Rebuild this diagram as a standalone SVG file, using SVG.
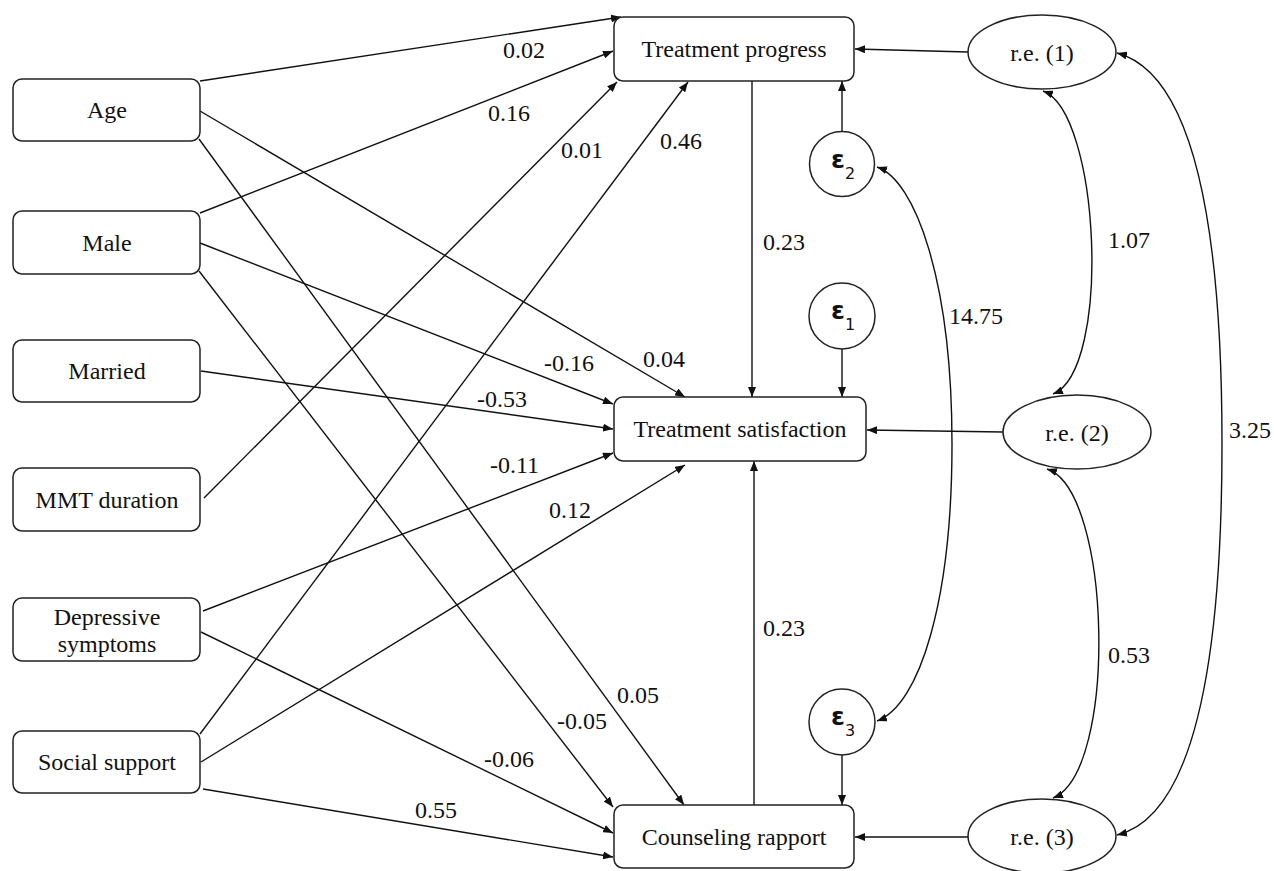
<svg xmlns="http://www.w3.org/2000/svg" width="1274" height="871" viewBox="0 0 1274 871">
<style>
.box{fill:#fff;stroke:#222;stroke-width:1.5}
.c line,.c path{stroke:#111;stroke-width:1.4;fill:none;marker-end:url(#ah)}
.c .dbl{marker-start:url(#ah)}
</style>
<defs>
<marker id="ah" viewBox="0 0 10 8" refX="10" refY="4" markerWidth="10" markerHeight="8" markerUnits="userSpaceOnUse" orient="auto-start-reverse">
<path d="M0,0 L10,4 L0,8 z" fill="#111"/>
</marker>
</defs>
<rect width="1274" height="871" fill="#fff"/>

<g id="connectors" class="c">
<line x1="200" y1="81" x2="621" y2="17"/>
<line x1="200" y1="111" x2="685" y2="397"/>
<line x1="199" y1="139" x2="684" y2="805"/>
<line x1="200" y1="213" x2="613" y2="51"/>
<line x1="200" y1="243" x2="613" y2="404"/>
<line x1="199" y1="271" x2="613" y2="807"/>
<line x1="201" y1="371" x2="613" y2="429"/>
<line x1="204" y1="498" x2="617" y2="82"/>
<line x1="203" y1="611" x2="613" y2="453"/>
<line x1="201" y1="632" x2="613" y2="833"/>
<line x1="200" y1="734" x2="688" y2="82"/>
<line x1="201" y1="762" x2="685" y2="465"/>
<line x1="203" y1="789" x2="613" y2="857"/>
<line x1="752" y1="81" x2="752" y2="397"/>
<line x1="754" y1="805" x2="754" y2="461"/>
<line x1="842" y1="132" x2="842" y2="81"/>
<line x1="842" y1="349" x2="842" y2="397"/>
<line x1="842" y1="755" x2="842" y2="805"/>
<line x1="968" y1="52" x2="855" y2="49"/>
<line x1="1003" y1="432" x2="867" y2="430"/>
<line x1="968" y1="837" x2="855" y2="837"/>
<path class="dbl" d="M1043,91 C1100,112 1112,370 1053,394"/>
<path class="dbl" d="M1047,469 C1112,490 1118,772 1053,798"/>
<path class="dbl" d="M1117,53 C1200,75 1222,250 1222,444 C1222,640 1200,815 1117,835"/>
<path class="dbl" d="M877,167 C915,180 952,280 952,444 C952,600 920,705 877,721"/>
</g>

<g font-family="Liberation Serif, Tinos, Times New Roman, serif" font-size="24" fill="#111" text-anchor="middle">
<g id="age"><rect class="box" x="13" y="79" width="187" height="62" rx="9"/><text x="107" y="118">Age</text></g>
<g id="male"><rect class="box" x="13" y="211" width="187" height="63" rx="9"/><text x="107" y="251">Male</text></g>
<g id="married"><rect class="box" x="13" y="340" width="187" height="62" rx="9"/><text x="107" y="379">Married</text></g>
<g id="mmt"><rect class="box" x="13" y="468" width="187" height="63" rx="9"/><text x="107" y="508">MMT duration</text></g>
<g id="depressive"><rect class="box" x="13" y="598" width="187" height="63" rx="9"/><text x="107" y="625">Depressive</text><text x="107" y="652">symptoms</text></g>
<g id="social"><rect class="box" x="13" y="731" width="187" height="62" rx="9"/><text x="107" y="770">Social support</text></g>

<g id="progress"><rect class="box" x="614" y="17" width="240" height="64" rx="9"/><text x="734" y="57">Treatment progress</text></g>
<g id="satisfaction"><rect class="box" x="614" y="397" width="252" height="64" rx="9"/><text x="740" y="437">Treatment satisfaction</text></g>
<g id="rapport"><rect class="box" x="614" y="805" width="240" height="63" rx="9"/><text x="734" y="845">Counseling rapport</text></g>

<g id="re1"><ellipse class="box" cx="1042" cy="52" rx="74" ry="37"/><text x="1042" y="61">r.e. (1)</text></g>
<g id="re2"><ellipse class="box" cx="1077" cy="432" rx="74" ry="37"/><text x="1077" y="441">r.e. (2)</text></g>
<g id="re3"><ellipse class="box" cx="1042" cy="836" rx="74" ry="37"/><text x="1042" y="845">r.e. (3)</text></g>
</g>

<g font-family="DejaVu Sans, sans-serif" fill="#111">
<g id="eps2"><circle class="box" cx="842" cy="164" r="32.5"/><text x="831" y="168" font-size="25" font-weight="bold">ε</text><text x="845" y="179" font-size="16">2</text></g>
<g id="eps1"><circle class="box" cx="842" cy="316" r="33"/><text x="831" y="319" font-size="25" font-weight="bold">ε</text><text x="845" y="330" font-size="16">1</text></g>
<g id="eps3"><circle class="box" cx="842" cy="722" r="33"/><text x="831" y="725" font-size="25" font-weight="bold">ε</text><text x="845" y="736" font-size="16">3</text></g>
</g>

<g id="labels" font-family="Liberation Serif, Tinos, Times New Roman, serif" font-size="24" fill="#111">
<text x="503" y="58">0.02</text>
<text x="488" y="121">0.16</text>
<text x="561" y="158">0.01</text>
<text x="660" y="149">0.46</text>
<text x="763" y="250">0.23</text>
<text x="643" y="367">0.04</text>
<text x="544" y="371">-0.16</text>
<text x="477" y="407">-0.53</text>
<text x="490" y="473">-0.11</text>
<text x="549" y="518">0.12</text>
<text x="763" y="636">0.23</text>
<text x="617" y="703">0.05</text>
<text x="557" y="729">-0.05</text>
<text x="484" y="767">-0.06</text>
<text x="415" y="818">0.55</text>
<text x="1108" y="248">1.07</text>
<text x="949" y="324">14.75</text>
<text x="1229" y="438">3.25</text>
<text x="1108" y="663">0.53</text>
</g>
</svg>
